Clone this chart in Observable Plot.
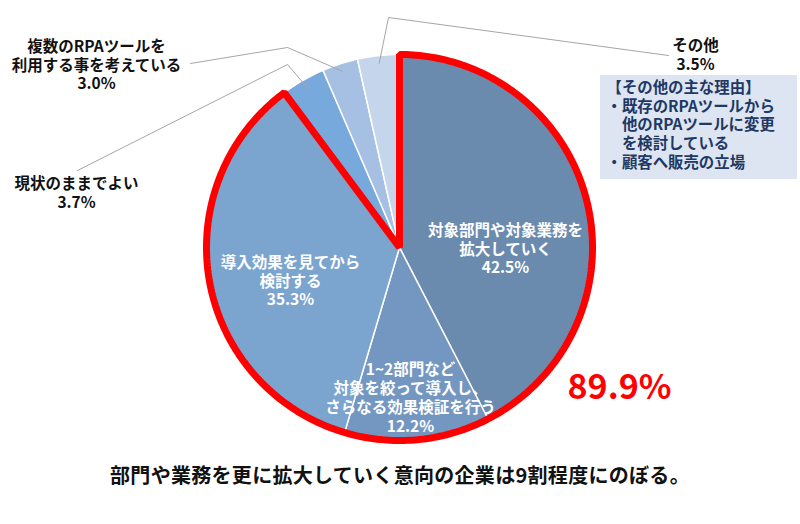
<!DOCTYPE html>
<html>
<head>
<meta charset="utf-8">
<script src="https://cdn.jsdelivr.net/npm/d3@7"></script>
<script src="https://cdn.jsdelivr.net/npm/@observablehq/plot@0.6"></script>
<style>
  body { margin: 0; background: #fff; font-family: "Noto Sans CJK JP", "Noto Sans", sans-serif; }
  #wrap { width: 800px; }
  #caption { width: 800px; height: 40px; line-height: 40px; text-align: center; font-size: 20px; font-weight: 700; color: #111; letter-spacing: 0.3px; }
</style>
</head>
<body>
<div id="wrap">
  <div id="chart"></div>
  <div id="caption"></div>
</div>
<script>
// ---------- data ----------
const categories = [
  "対象部門や対象業務を拡大していく",
  "1~2部門など対象を絞って導入し、さらなる効果検証を行う",
  "導入効果を見てから検討する",
  "現状のままでよい",
  "複数のRPAツールを利用する事を考えている",
  "その他"
];
const values = [42.5, 12.2, 35.3, 3.7, 3.0, 3.5];
const labelTexts = [
  "対象部門や対象業務を\n拡大していく\n42.5%",
  "1~2部門など\n対象を絞って導入し、\nさらなる効果検証を行う\n12.2%",
  "導入効果を見てから\n検討する\n35.3%",
  "現状のままでよい\n3.7%",
  "複数のRPAツールを\n利用する事を考えている\n3.0%",
  "その他\n3.5%"
];
const highlightCount = 3;
const highlightText = "89.9%";
const noteLines = ["【その他の主な理由】", "・既存のRPAツールから", "　他のRPAツールに変更", "　を検討している", "・顧客へ販売の立場"];
const captionText = "部門や業務を更に拡大していく意向の企業は9割程度にのぼる。";

// ---------- styles / layout ----------
const colors = ["#6a8bae", "#7497c1", "#7ba4cf", "#78a9dc", "#a5c0e2", "#c5d5eb"];
const W = 800, H = 455, CX = 399, CY = 247, R = 193;
const X = px => (px - CX) / R;
const Y = py => (CY - py) / R;
// label centres (px) and text colours
const labelPos = [[505, 248], [410, 397], [290, 280], [76, 192], [96, 64], [695, 54]];
const labelFill = ["#fff", "#fff", "#fff", "#111", "#111", "#111"];
// leader line elbow/end (px) for outside labels (index -> points)
const leaders = {3: [[287, 64], [77, 170]], 4: [[287, 47], [190, 63]], 5: [[388, 17], [668, 55]]};

// ---------- geometry ----------
const arcs = d3.pie().sort(null).value(d => d).startAngle(0).endAngle(2 * Math.PI)(values);
const pt = a => ({x: Math.sin(a), y: Math.cos(a)});
function slicePoly(a0, a1) {
  const n = Math.max(2, Math.ceil((a1 - a0) / (Math.PI / 180)));
  const pts = [{x: 0, y: 0}];
  for (let i = 0; i <= n; i++) pts.push(pt(a0 + (a1 - a0) * i / n));
  return pts;
}
const sliceMarks = arcs.map((a, i) =>
  Plot.line(slicePoly(a.startAngle, a.endAngle), {x: "x", y: "y", fill: colors[i], stroke: "#fff", strokeWidth: 1.5, curve: "linear-closed"})
);
const hiEnd = arcs[highlightCount - 1].endAngle;
const redOutline = Plot.line(slicePoly(0, hiEnd), {x: "x", y: "y", stroke: "#ff0000", strokeWidth: 7, strokeLinejoin: "miter", curve: "linear-closed"});

const leaderData = [];
Object.entries(leaders).forEach(([k, pts]) => {
  const a = arcs[+k];
  const mid = (a.startAngle + a.endAngle) / 2;
  const s = pt(mid);
  leaderData.push({k, x: s.x * 0.96, y: s.y * 0.96});
  pts.forEach(p => leaderData.push({k, x: X(p[0]), y: Y(p[1])}));
});

const labelData = labelTexts.map((t, i) => ({text: t, x: X(labelPos[i][0]), y: Y(labelPos[i][1]), fill: labelFill[i]}));

const box = {x1: X(600), x2: X(797), y1: Y(179), y2: Y(75)};

const chart = Plot.plot({
  width: W, height: H,
  margin: 0,
  x: {domain: [X(0), X(W)], axis: null},
  y: {domain: [Y(H), Y(0)], axis: null},
  style: {fontFamily: "'Noto Sans CJK JP', 'Noto Sans', sans-serif", background: "#fff"},
  marks: [
    ...sliceMarks,
    redOutline,
    Plot.line(leaderData, {x: "x", y: "y", z: "k", stroke: "#a6a6a6", strokeWidth: 1}),
    Plot.text(labelData, {x: "x", y: "y", text: "text", fill: d => d.fill, fontSize: 15.5, fontWeight: 700, lineHeight: 1.22}),
    Plot.rect([box], {x1: "x1", x2: "x2", y1: "y1", y2: "y2", fill: "#dce5f1"}),
    Plot.text([noteLines.join("\n")], {x: X(606), y: Y(79), text: d => d, textAnchor: "start", lineAnchor: "top", fill: "#1f3864", fontSize: 15.4, fontWeight: 700, lineHeight: 1.22}),
    Plot.text([highlightText], {x: X(619), y: Y(388), text: d => d, fill: "#ff0000", fontSize: 34, fontWeight: 700})
  ]
});
document.getElementById("chart").appendChild(chart);
document.getElementById("caption").textContent = captionText;
</script>
</body>
</html>
